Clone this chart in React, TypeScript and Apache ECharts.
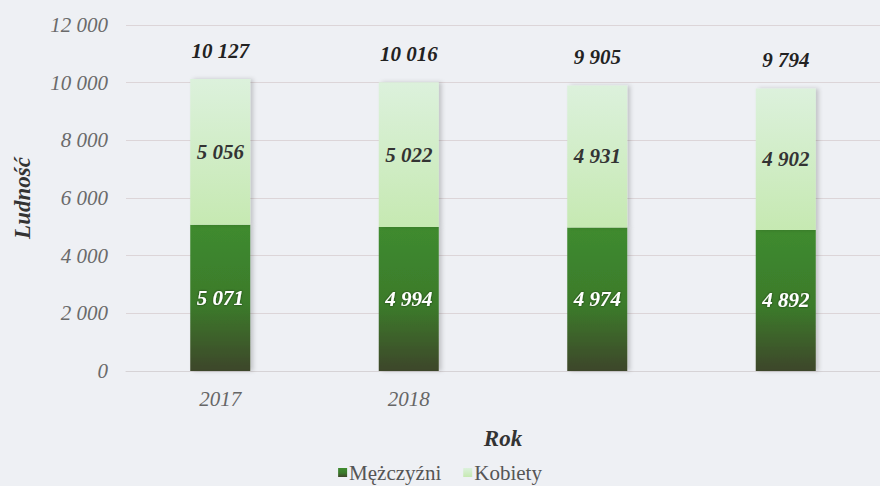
import React, { useEffect, useRef } from "react";
import * as echarts from "echarts";

const yearLabels = ["2017", "2018", "", ""];
const menValues = [5071, 4994, 4974, 4892];
const womenValues = [5056, 5022, 4931, 4902];
const totalValues = [10127, 10016, 9905, 9794];
const yTicks = { min: 0, max: 12000, interval: 2000 };

const fmt = (v: number) => String(v).replace(/\B(?=(\d{3})+(?!\d))/g, " ");
const SERIF = '"Liberation Serif", "Times New Roman", Times, serif';

export default function App() {
  const ref = useRef<HTMLDivElement>(null);
  useEffect(() => {
    if (!ref.current) return;
    const chart = echarts.init(ref.current, undefined, { renderer: "svg" });
    chart.setOption({
      animation: false,
      backgroundColor: "#eef0f4",
      textStyle: { fontFamily: SERIF },
      grid: { left: 126, right: -14, top: 25, bottom: 115, containLabel: false },
      legend: {
        data: ["Mężczyźni", "Kobiety"],
        top: 457,
        left: "center",
        itemWidth: 9,
        itemHeight: 9,
        itemGap: 22,
        icon: "rect",
        textStyle: { fontFamily: SERIF, fontSize: 21, color: "#555", padding: [0, 0, 0, -3] },
      },
      xAxis: {
        type: "category",
        data: yearLabels,
        name: "Rok",
        nameLocation: "middle",
        nameGap: 56,
        nameTextStyle: { fontFamily: SERIF, fontSize: 23, fontStyle: "italic", fontWeight: "bold", color: "#333" },
        axisLine: { show: true, lineStyle: { color: "#d6d3d6", width: 1 } },
        axisTick: { show: false },
        axisLabel: { fontFamily: SERIF, fontSize: 21, fontStyle: "italic", color: "#666", margin: 17 },
      },
      yAxis: {
        type: "value",
        min: yTicks.min,
        max: yTicks.max,
        interval: yTicks.interval,
        name: "Ludność",
        nameLocation: "middle",
        nameGap: 92,
        nameRotate: 90,
        nameTextStyle: { fontFamily: SERIF, fontSize: 23, fontStyle: "italic", fontWeight: "bold", color: "#333" },
        axisLine: { show: false },
        axisTick: { show: false },
        splitLine: { lineStyle: { color: "#dcd5d8", width: 1 } },
        axisLabel: {
          fontFamily: SERIF,
          fontSize: 21,
          fontStyle: "italic",
          color: "#6a6a6a",
          margin: 18,
          formatter: (v: number) => fmt(v),
        },
      },
      series: [
        {
          name: "Mężczyźni",
          type: "bar",
          stack: "total",
          barWidth: 60,
          data: menValues,
          itemStyle: {
            color: new echarts.graphic.LinearGradient(0, 0, 0, 1, [
              { offset: 0, color: "#3f8b2f" },
              { offset: 0.55, color: "#3b7a2b" },
              { offset: 1, color: "#3e4629" },
            ]),
            shadowColor: "rgba(0,0,0,0.18)",
            shadowBlur: 4,
            shadowOffsetX: 3,
          },
          label: {
            show: true,
            position: "inside",
            formatter: (p: any) => fmt(p.value),
            fontFamily: SERIF,
            fontSize: 21,
            fontStyle: "italic",
            fontWeight: "bold",
            color: "#ffffff",
            textShadowColor: "rgba(0,0,0,0.6)",
            textShadowBlur: 2,
          },
        },
        {
          name: "Kobiety",
          type: "bar",
          stack: "total",
          barWidth: 60,
          data: womenValues,
          itemStyle: {
            color: new echarts.graphic.LinearGradient(0, 0, 0, 1, [
              { offset: 0, color: "#dcf1dc" },
              { offset: 1, color: "#c6e9b2" },
            ]),
            shadowColor: "rgba(0,0,0,0.18)",
            shadowBlur: 4,
            shadowOffsetX: 3,
          },
          label: {
            show: true,
            position: "inside",
            formatter: (p: any) => fmt(p.value),
            fontFamily: SERIF,
            fontSize: 21,
            fontStyle: "italic",
            fontWeight: "bold",
            color: "#333",
          },
        },
        {
          name: "Razem",
          type: "bar",
          stack: "total",
          barWidth: 60,
          data: totalValues.map(() => 0),
          itemStyle: { color: "transparent" },
          label: {
            show: true,
            position: "top",
            distance: 18,
            formatter: (p: any) => fmt(totalValues[p.dataIndex]),
            fontFamily: SERIF,
            fontSize: 21,
            fontStyle: "italic",
            fontWeight: "bold",
            color: "#222",
          },
        },
      ],
    });
    return () => chart.dispose();
  }, []);
  return <div ref={ref} style={{ position: "fixed", left: 0, top: 0, width: 880, height: 486 }} />;
}
